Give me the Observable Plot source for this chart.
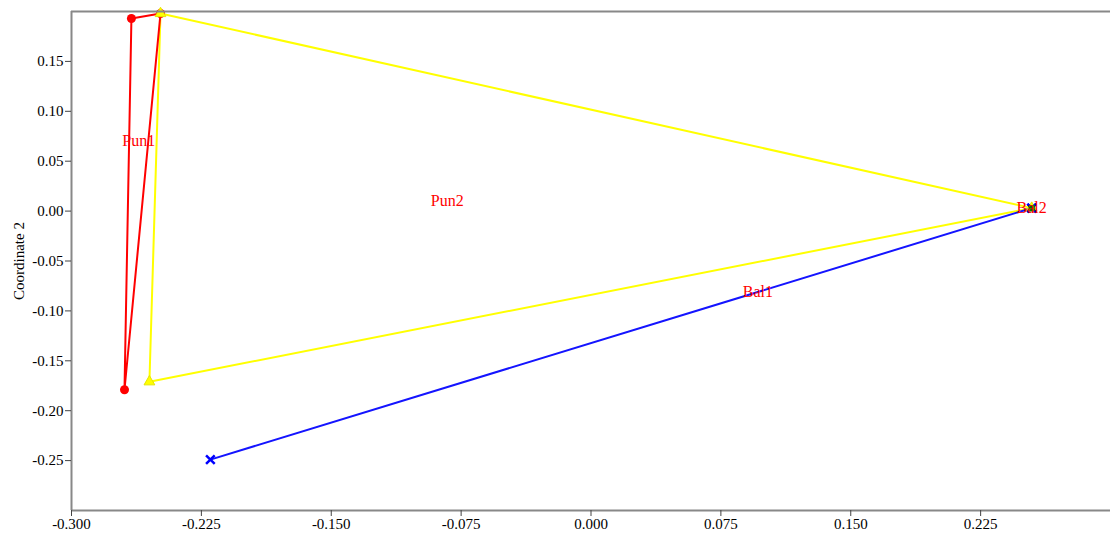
<!DOCTYPE html>
<html>
<head>
<meta charset="utf-8">
<script src="https://cdn.jsdelivr.net/npm/d3@7"></script>
<script src="https://cdn.jsdelivr.net/npm/@observablehq/plot@0.6"></script>
<style>
  html, body { margin: 0; padding: 0; background: #fff; }
  #chart svg { display: block; }
</style>
</head>
<body>
<div id="chart"></div>
<script>
// Group membership of each point
const groups = ["Pun1", "Pun1", "Pun1", "Pun2", "Pun2", "Pun2", "Bal1", "Bal1", "Bal1", "Bal2"];
// Coordinate 1 (x) of each point
const coord1 = [-0.2654, -0.2486, -0.2694, -0.2486, 0.2545, -0.2550, -0.2198, 0.2545, 0.2545, 0.2545];
// Coordinate 2 (y) of each point
const coord2 = [0.193, 0.198, -0.179, 0.198, 0.003, -0.171, -0.249, 0.003, 0.003, 0.003];

const xTicks = [-0.3, -0.225, -0.15, -0.075, 0, 0.075, 0.15, 0.225];
const yTicks = [-0.25, -0.2, -0.15, -0.1, -0.05, 0, 0.05, 0.1, 0.15];

const data = groups.map((g, i) => ({group: g, x: coord1[i], y: coord2[i]}));
const of = g => data.filter(d => d.group === g);

const chart = Plot.plot({
  width: 1110,
  height: 535,
  marginLeft: 71,
  marginRight: 0,
  marginTop: 11,
  marginBottom: 25,
  style: {fontFamily: "'Liberation Serif', 'Times New Roman', serif", fontSize: "15px", color: "#000", background: "#fff"},
  x: {domain: [-0.3, 0.3]},
  y: {domain: [-0.3, 0.2]},
  marks: [
    Plot.hull(of("Pun2"), {x: "x", y: "y", stroke: "#ffff00", strokeWidth: 2}),
    Plot.hull(of("Bal1"), {x: "x", y: "y", stroke: "#1414ff", strokeWidth: 2}),
    Plot.hull(of("Pun1"), {x: "x", y: "y", stroke: "#ff0000", strokeWidth: 2}),
    Plot.dot(of("Pun1"), {x: "x", y: "y", symbol: "circle", r: 4.5, fill: "#ff0000"}),
    Plot.dot(of("Pun2"), {x: "x", y: "y", symbol: "triangle", r: 4, fill: "#ffff00", stroke: "#e6e600", strokeWidth: 1}),
    Plot.dot(of("Bal1"), {x: "x", y: "y", symbol: "times", r: 4, stroke: "#0000ff", strokeWidth: 2.5}),
    Plot.dot(of("Bal2"), {x: "x", y: "y", symbol: "square", r: 3.5, fill: "#008000"}),
    Plot.text(data, Plot.groupZ({x: "mean", y: "mean", text: "first"}, {x: "x", y: "y", z: "group", text: "group", fill: "#ff0000", fontSize: 16})),
    Plot.ruleX([-0.3], {stroke: "#888", strokeWidth: 2}),
    Plot.ruleY([-0.3, 0.2], {stroke: "#888", strokeWidth: 2}),
    Plot.axisX({ticks: xTicks, tickFormat: d => d.toFixed(3), tickSize: 6, tickPadding: 2, label: null, stroke: "#444"}),
    Plot.axisY({ticks: yTicks, tickFormat: d => d.toFixed(2), tickSize: 6, tickPadding: 2, label: "Coordinate 2", labelAnchor: "center", labelArrow: "none", labelOffset: 58, stroke: "#444"})
  ]
});

document.getElementById("chart").appendChild(chart);
</script>
</body>
</html>
